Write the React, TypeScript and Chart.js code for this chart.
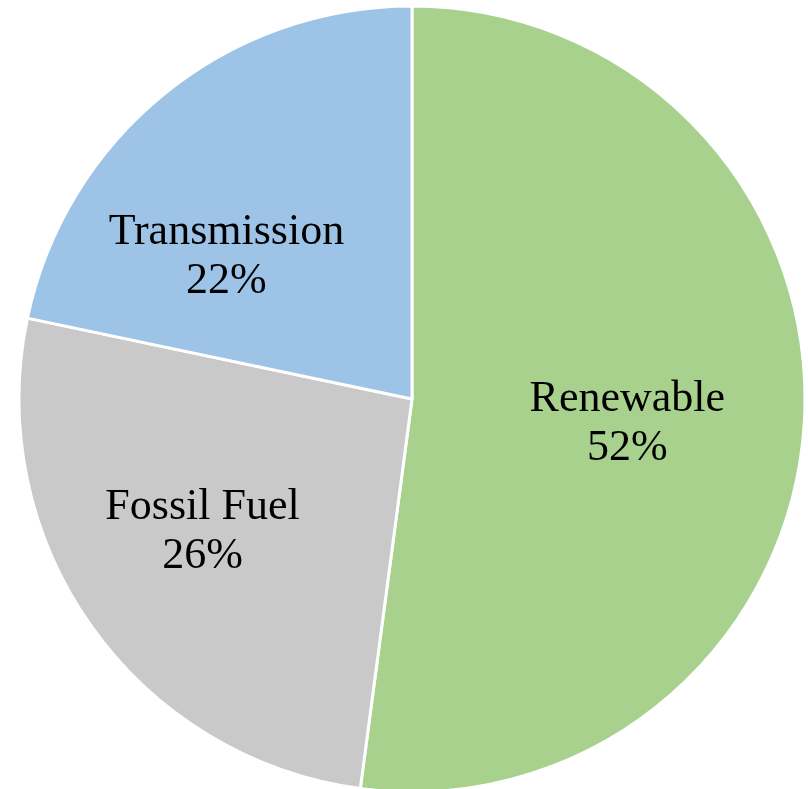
import React, { useEffect, useRef } from "react";
import { Chart, registerables } from "chart.js";

Chart.register(...registerables);

const categories = ["Renewable", "Fossil Fuel", "Transmission"];
const values = [52.1, 26.2, 21.7];
const sliceColors = ["#A9D18E", "#C9C9C9", "#9DC3E6"];

const labelPlugin = {
  id: "sliceLabels",
  afterDatasetsDraw(chart: any, _args: any, opts: any) {
    const ctx = chart.ctx;
    const meta = chart.getDatasetMeta(0);
    const nudges = opts.nudges || [];
    const total = values.reduce((a, b) => a + b, 0);
    ctx.save();
    ctx.font = opts.font;
    ctx.fillStyle = opts.color;
    ctx.textAlign = "center";
    ctx.textBaseline = "alphabetic";
    meta.data.forEach((arc: any, i: number) => {
      const p = arc.getProps(["x", "y", "startAngle", "endAngle", "outerRadius"], true);
      const mid = (p.startAngle + p.endAngle) / 2;
      const r = p.outerRadius * opts.radiusFraction;
      const n = nudges[i] || [0, 0];
      const cx = p.x + Math.cos(mid) * r + n[0];
      const cy = p.y + Math.sin(mid) * r + n[1];
      const pct = Math.round((values[i] / total) * 100) + "%";
      ctx.fillText(categories[i], cx, cy - 10.5);
      ctx.fillText(pct, cx, cy + 38.5);
    });
    ctx.restore();
  },
};

export default function App() {
  const ref = useRef<HTMLCanvasElement>(null);
  useEffect(() => {
    if (!ref.current) return;
    const chart = new Chart(ref.current, {
      type: "pie",
      data: {
        labels: categories,
        datasets: [
          {
            data: values,
            backgroundColor: sliceColors,
            borderColor: "#FFFFFF",
            borderWidth: 3,
            hoverOffset: 0,
            radius: 393,
            clip: false,
          } as any,
        ],
      },
      options: {
        animation: false,
        responsive: false,
        maintainAspectRatio: false,
        layout: { padding: { left: 20, right: 4, top: 9, bottom: 0 } },
        plugins: {
          legend: { display: false },
          tooltip: { enabled: false },
          sliceLabels: {
            font: "44px 'Liberation Serif', 'Times New Roman', serif",
            color: "#000000",
            radiusFraction: 0.6,
            nudges: [
              [-20, 7],
              [-17, -6],
              [-37, 39],
            ],
          },
        } as any,
      },
      plugins: [labelPlugin],
    });
    return () => chart.destroy();
  }, []);
  return (
    <div style={{ position: "absolute", left: 0, top: 0, width: 808, height: 789, background: "#FFFFFF", overflow: "hidden" }}>
      <canvas ref={ref} width={808} height={789} style={{ display: "block", width: 808, height: 789 }} />
    </div>
  );
}
